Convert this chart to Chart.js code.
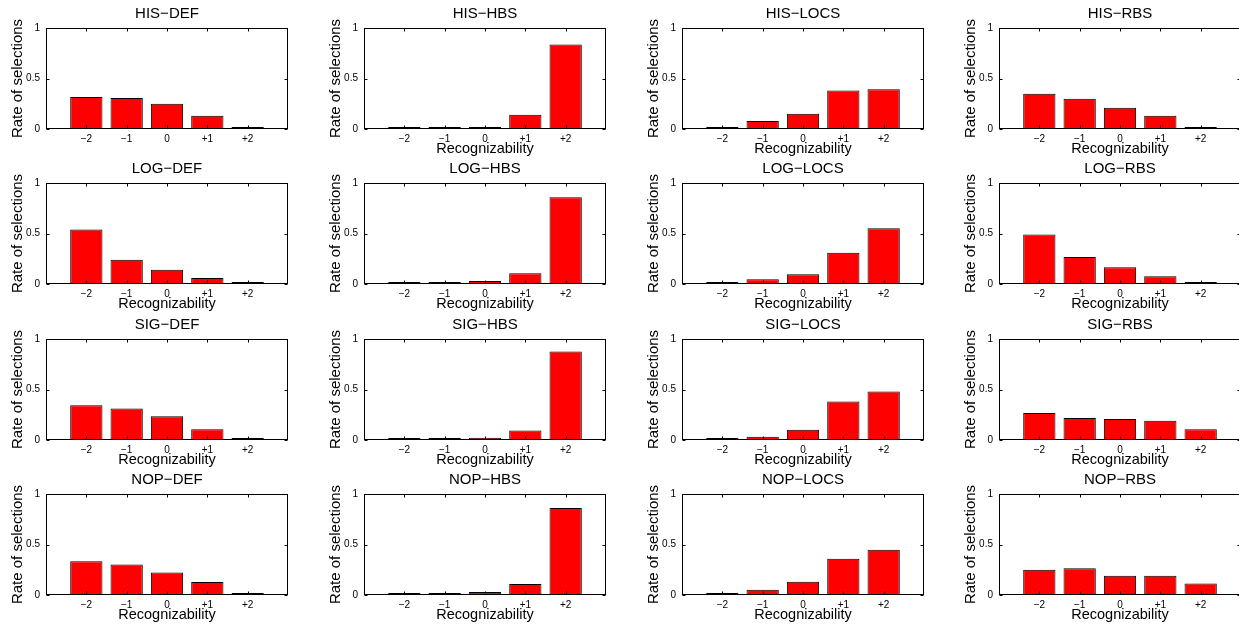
<!DOCTYPE html>
<html>
<head>
<meta charset="utf-8">
<script src="https://cdn.jsdelivr.net/npm/chart.js@4"></script>
<style>
body{margin:0;width:1239px;height:628px;overflow:hidden;background:#fff;position:relative}
canvas{position:absolute}
</style>
</head>
<body>
<script>
// rate of selections per recognizability level (-2 .. +2)
const hisDef  = [0.317, 0.307, 0.25, 0.13, 0.01];
const hisHbs  = [0.002, 0.017, 0.013, 0.14, 0.837];
const hisLocs = [0.01, 0.08, 0.15, 0.38, 0.393];
const hisRbs  = [0.35, 0.30, 0.21, 0.13, 0.01];
const logDef  = [0.54, 0.24, 0.14, 0.06, 0.015];
const logHbs  = [0.003, 0.007, 0.03, 0.106, 0.858];
const logLocs = [0.002, 0.046, 0.096, 0.31, 0.553];
const logRbs  = [0.49, 0.268, 0.166, 0.076, 0.007];
const sigDef  = [0.344, 0.311, 0.235, 0.106, 0.013];
const sigHbs  = [0.003, 0.01, 0.023, 0.093, 0.877];
const sigLocs = [0.01, 0.033, 0.102, 0.38, 0.479];
const sigRbs  = [0.267, 0.218, 0.208, 0.191, 0.106];
const nopDef  = [0.334, 0.301, 0.222, 0.129, 0.01];
const nopHbs  = [0.003, 0.005, 0.03, 0.109, 0.861];
const nopLocs = [0.007, 0.053, 0.132, 0.359, 0.447];
const nopRbs  = [0.25, 0.265, 0.19, 0.19, 0.115];

const methods = ['HIS', 'LOG', 'SIG', 'NOP'];
const schemes = ['DEF', 'HBS', 'LOCS', 'RBS'];
const values = [
    [hisDef, hisHbs, hisLocs, hisRbs],
    [logDef, logHbs, logLocs, logRbs],
    [sigDef, sigHbs, sigLocs, sigRbs],
    [nopDef, nopHbs, nopLocs, nopRbs]
];
const xTickValues = [-2, -1, 0, 1, 2];
const xTickLabels = ['\u22122', '\u22121', '0', '+1', '+2'];
const yTickValues = [0, 0.5, 1];
const yTickLabels = ['0', '0.5', '1'];

const colLeft = [0, 318, 636, 953];
const rowTop = [0, 155, 311, 466];
const FONT = '"Liberation Sans", Arial, Helvetica, sans-serif';

// matlab style box with inward ticks, title centred over the axes
const frame = {
    id: 'frame',
    afterDraw(chart, args, opts){
        const {ctx, chartArea: a, scales} = chart;
        const l = Math.round(a.left) + 0.5, r = Math.round(a.right) - 0.5;
        const t = Math.round(a.top) + 0.5, b = Math.round(a.bottom) - 0.5;
        ctx.save();
        ctx.strokeStyle = '#000';
        ctx.lineWidth = 1;
        ctx.strokeRect(l, t, r - l, b - t);
        ctx.beginPath();
        for(let v of xTickValues){
            const px = Math.round(scales.x.getPixelForValue(v)) + 0.5;
            ctx.moveTo(px, b); ctx.lineTo(px, b - 3);
            ctx.moveTo(px, t); ctx.lineTo(px, t + 3);
        }
        for(let v of yTickValues){
            const py = Math.round(scales.y.getPixelForValue(v)) + 0.5;
            ctx.moveTo(l, py); ctx.lineTo(l + 3, py);
            ctx.moveTo(r, py); ctx.lineTo(r - 3, py);
        }
        ctx.stroke();

        ctx.fillStyle = '#000';
        ctx.font = '15px ' + FONT;
        ctx.textAlign = 'center';
        ctx.textBaseline = 'middle';
        ctx.fillText(opts.text, (a.left + a.right) / 2, 13.5);
        ctx.restore();
    }
};

for(let i = 0; i < 4; i++){
    for(let j = 0; j < 4; j++){
        const cv = document.createElement('canvas');
        cv.width = 300;
        cv.height = 160;
        cv.style.left = colLeft[j] + 'px';
        cv.style.top = rowTop[i] + 'px';
        document.body.appendChild(cv);

        const showXTitle = !(i === 0 && j === 0);

        new Chart(cv.getContext('2d'), {
            type: 'bar',
            data: {
                datasets: [{
                    data: values[i][j].map((v, k) => ({x: xTickValues[k], y: v})),
                    backgroundColor: '#ff0000',
                    borderColor: '#000',
                    borderWidth: 1,
                    minBarLength: 2,
                    barPercentage: 0.8,
                    categoryPercentage: 1
                }]
            },
            options: {
                responsive: false,
                animation: false,
                devicePixelRatio: 1,
                layout: {padding: {left: 0, right: 12, top: 28, bottom: 0}},
                plugins: {
                    legend: {display: false},
                    tooltip: {enabled: false},
                    title: {display: false},
                    frame: {text: methods[i] + '\u2212' + schemes[j]}
                },
                scales: {
                    x: {
                        type: 'linear',
                        min: -3,
                        max: 3,
                        offset: false,
                        grid: {display: false, drawTicks: false},
                        border: {display: false},
                        afterBuildTicks: s => { s.ticks = xTickValues.map(v => ({value: v})); },
                        afterFit: s => { s.height = 31; },
                        ticks: {
                            color: '#000',
                            padding: 4,
                            maxRotation: 0,
                            autoSkip: false,
                            font: {family: FONT, size: 10},
                            callback: (v, idx) => xTickLabels[idx]
                        },
                        title: {
                            display: showXTitle,
                            text: 'Recognizability',
                            color: '#000',
                            font: {family: FONT, size: 14.5},
                            padding: {top: 0, bottom: 2}
                        }
                    },
                    y: {
                        min: 0,
                        max: 1,
                        grid: {display: false, drawTicks: false},
                        border: {display: false},
                        afterBuildTicks: s => { s.ticks = yTickValues.map(v => ({value: v})); },
                        afterFit: s => { s.width = 46; },
                        ticks: {
                            color: '#000',
                            padding: 6,
                            font: {family: FONT, size: 10},
                            callback: (v, idx) => yTickLabels[idx]
                        },
                        title: {
                            display: true,
                            text: 'Rate of selections',
                            color: '#000',
                            font: {family: FONT, size: 15},
                            padding: {top: 9, bottom: 0}
                        }
                    }
                }
            },
            plugins: [frame]
        });
    }
}
</script>
</body>
</html>
